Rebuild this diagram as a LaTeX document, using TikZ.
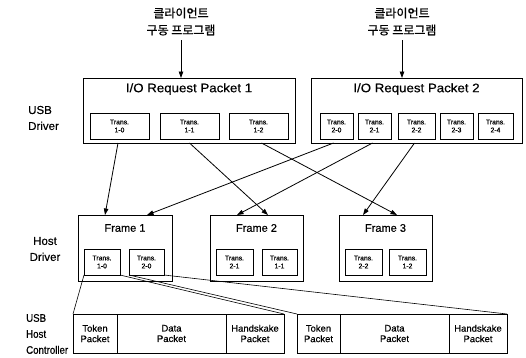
\documentclass[tikz,border=0pt]{standalone}
\usepackage{fontspec}
\setmainfont[FakeBold=0.4]{Liberation Sans}
\newfontfamily\kofont[FakeBold=0.8]{Noto Sans CJK KR}
\newfontfamily\titlefont[FakeStretch=1.08,FakeBold=0.4]{Liberation Sans}
\newfontfamily\narrowfont[FakeStretch=0.88,FakeBold=0.4]{Liberation Sans}
\usetikzlibrary{arrows.meta,calc}

\tikzset{
  box/.style={draw, line width=0.9pt, fill=white, inner sep=0pt, outer sep=0pt},
  trbox/.style={box, align=center, font=\fontsize{6.8}{8}\selectfont},
  pkt/.style={box, align=center, minimum height=39pt, font=\fontsize{9.5}{10.5}\selectfont},
  title/.style={inner sep=0pt, font=\titlefont\fontsize{12.3}{14}\selectfont},
  ftitle/.style={inner sep=0pt, font=\fontsize{11}{13}\selectfont},
  layer/.style={inner sep=0pt, font=\fontsize{11.5}{16}\selectfont},
  client/.style={inner sep=0pt, align=center, font=\kofont\fontsize{12}{17}\selectfont},
  flow/.style={line width=0.8pt, -{Triangle[length=6.5pt,width=4.5pt]}},
  link/.style={line width=0.6pt}
}

\begin{document}
\begin{tikzpicture}[x=1pt, y=-1pt]
  \useasboundingbox (0,0) rectangle (526,357);

  % client programs
  \node[client] (c1) at (181,21.5) {클라이언트\\구동 프로그램};
  \node[client] (c2) at (402,21.5) {클라이언트\\구동 프로그램};

  % USB driver: I/O request packets
  \node[box, minimum width=212pt, minimum height=65pt] (irp1) at (189,110.5) {};
  \node[box, minimum width=211pt, minimum height=65pt] (irp2) at (416.5,110.5) {};
  \node[title] (irp1t) at (189,89) {I/O Request Packet 1};
  \node[title] (irp2t) at (416.5,89) {I/O Request Packet 2};

  \node[trbox, minimum width=59pt, minimum height=26pt] (t10) at (119.5,126) {Trans.\\1-0};
  \node[trbox, minimum width=59pt, minimum height=26pt] (t11) at (189.5,126) {Trans.\\1-1};
  \node[trbox, minimum width=59pt, minimum height=26pt] (t12) at (258.5,126) {Trans.\\1-2};

  \node[trbox, minimum width=33pt, minimum height=26pt] (t20) at (336.5,126) {Trans.\\2-0};
  \node[trbox, minimum width=33pt, minimum height=26pt] (t21) at (374.5,126) {Trans.\\2-1};
  \node[trbox, minimum width=37pt, minimum height=26pt] (t22) at (416.5,126) {Trans.\\2-2};
  \node[trbox, minimum width=33pt, minimum height=26pt] (t23) at (456.5,126) {Trans.\\2-3};
  \node[trbox, minimum width=35pt, minimum height=26pt] (t24) at (495.5,126) {Trans.\\2-4};

  % host driver: frames
  \node[box, minimum width=94pt, minimum height=66pt] (f1) at (125,248) {};
  \node[box, minimum width=93pt, minimum height=66pt] (f2) at (256.5,248) {};
  \node[box, minimum width=93pt, minimum height=66pt] (f3) at (385.5,248) {};
  \node[ftitle] (f1t) at (125,228) {Frame 1};
  \node[ftitle] (f2t) at (256.5,228) {Frame 2};
  \node[ftitle] (f3t) at (385.5,228) {Frame 3};

  \node[trbox, minimum width=36pt, minimum height=26pt] (h10) at (102,262) {Trans.\\1-0};
  \node[trbox, minimum width=35pt, minimum height=26pt] (h20) at (146.5,262) {Trans.\\2-0};
  \node[trbox, minimum width=37pt, minimum height=26pt] (h21) at (234.5,262) {Trans.\\2-1};
  \node[trbox, minimum width=35pt, minimum height=26pt] (h11) at (279.5,262) {Trans.\\1-1};
  \node[trbox, minimum width=37pt, minimum height=26pt] (h22) at (363.5,262) {Trans.\\2-2};
  \node[trbox, minimum width=37pt, minimum height=26pt] (h12) at (407.5,262) {Trans.\\1-2};

  % USB host controller: packets on the bus
  \node[pkt, minimum width=44pt]  (pa1) at (95,333.5)    {Token\\Packet};
  \node[pkt, minimum width=109pt] (pa2) at (171.5,333.5) {Data\\Packet};
  \node[pkt, minimum width=58pt]  (pa3) at (255,333.5)   {Handskake\\Packet};
  \node[pkt, minimum width=43pt]  (pb1) at (318.5,333.5) {Token\\Packet};
  \node[pkt, minimum width=109pt] (pb2) at (394.5,333.5) {Data\\Packet};
  \node[pkt, minimum width=58pt]  (pb3) at (478,333.5)   {Handskake\\Packet};

  % layer names
  \node[layer, align=left, anchor=west] (lusb) at (28,118) {USB\\Driver};
  \node[layer, align=center] (lhost) at (45,249) {Host\\Driver};
  \node[layer, align=left, anchor=west, font=\narrowfont\fontsize{11}{16}\selectfont] (lhc) at (26,334) {USB\\Host\\Controller};

  % client requests
  \draw[flow] (c1.south |- 0,40) -- (c1.south |- irp1.north);
  \draw[flow] (c2.south |- 0,40) -- (c2.south |- irp2.north);

  % transfers scheduled into frames
  \coordinate (e10) at ([xshift=-20pt]f1.north);
  \coordinate (e20) at ([xshift=22pt]f1.north);
  \coordinate (e21) at ([xshift=-19.5pt]f2.north);
  \coordinate (e11) at ([xshift=11.5pt]f2.north);
  \coordinate (e22) at ([xshift=-22.5pt]f3.north);
  \coordinate (e12) at ([xshift=11.5pt]f3.north);

  \draw[flow] ([xshift=-1.5pt]t10.south |- irp1.south) -- (e10);
  \draw[flow] (t11.south |- irp1.south) -- (e11);
  \draw[flow] ([xshift=3pt]t12.south |- irp1.south) -- (e12);
  \draw[flow] ([xshift=-3pt]t20.south |- irp2.south) -- (e20);
  \draw[flow] ([xshift=-2pt]t21.south |- irp2.south) -- (e21);
  \draw[flow] ([xshift=-2pt]t22.south |- irp2.south) -- (e22);

  % transfers expanded into bus packets
  \draw[link] (h10.south west) -- (pa1.north west);
  \draw[link] (h10.south east) -- (pa3.north east);
  \draw[link] (h20.south west) -- (pb1.north west);
  \draw[link] (h20.south east) -- (pb3.north east);
\end{tikzpicture}
\end{document}
